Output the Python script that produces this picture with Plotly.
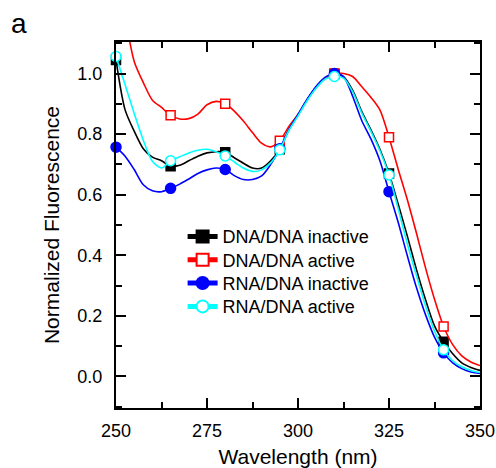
import plotly.graph_objects as go

# ---- data ----
wavelength = [250, 252.5, 255, 257.5, 260, 262.5, 265, 267.5, 270, 272.5, 275, 277.5,
              280, 282.5, 285, 287.5, 290, 292.5, 295, 297.5, 300, 302.5, 305, 307.5,
              310, 312.5, 315, 317.5, 320, 322.5, 325, 327.5, 330, 332.5, 335, 337.5,
              340, 342.5, 345, 347.5, 350]

dna_dna_inactive = [1.045, 0.88, 0.81, 0.752, 0.724, 0.712, 0.694, 0.697, 0.712, 0.727, 0.738, 0.742,
                    0.740, 0.722, 0.704, 0.688, 0.688, 0.712, 0.750, 0.815, 0.863, 0.913, 0.954, 0.984,
                    0.998, 0.99, 0.945, 0.875, 0.815, 0.75, 0.67, 0.57, 0.465, 0.355, 0.255, 0.167,
                    0.115, 0.075, 0.045, 0.03, 0.02]

dna_dna_active = [1.28, 1.18, 1.04, 0.97, 0.912, 0.888, 0.862, 0.85, 0.851, 0.866, 0.897, 0.908,
                  0.90, 0.876, 0.843, 0.805, 0.77, 0.758, 0.778, 0.825, 0.865, 0.913, 0.955, 0.985,
                  1.0, 1.0, 0.99, 0.957, 0.922, 0.88, 0.79, 0.685, 0.585, 0.475, 0.36, 0.255,
                  0.165, 0.105, 0.068, 0.048, 0.036]

rna_dna_inactive = [0.757, 0.727, 0.683, 0.633, 0.613, 0.61, 0.621, 0.635, 0.652, 0.67, 0.682, 0.688,
                    0.683, 0.663, 0.65, 0.65, 0.662, 0.70, 0.752, 0.815, 0.865, 0.915, 0.958, 0.988,
                    1.0, 0.99, 0.925, 0.845, 0.785, 0.712, 0.61, 0.51, 0.40, 0.295, 0.205, 0.13,
                    0.078, 0.045, 0.026, 0.015, 0.01]

rna_dna_active = [1.056, 0.963, 0.868, 0.78, 0.71, 0.688, 0.712, 0.725, 0.738, 0.747, 0.75, 0.742,
                  0.728, 0.708, 0.688, 0.677, 0.682, 0.705, 0.748, 0.812, 0.86, 0.91, 0.952, 0.982,
                  0.99, 0.985, 0.94, 0.87, 0.81, 0.745, 0.665, 0.555, 0.44, 0.335, 0.235, 0.15,
                  0.088, 0.052, 0.032, 0.02, 0.013]

marker_wavelengths = [250, 265, 280, 295, 310, 325, 340]
series_names = ["DNA/DNA inactive", "DNA/DNA active", "RNA/DNA inactive", "RNA/DNA active"]
x_tick_values = [250, 275, 300, 325, 350]
y_tick_values = [0.0, 0.2, 0.4, 0.6, 0.8, 1.0]

# ---- styles ----
styles = [
    dict(color="#000000", symbol="square", fill="#000000", clip=False),
    dict(color="#ff0000", symbol="square", fill="#ffffff", clip=True),
    dict(color="#0000ff", symbol="circle", fill="#0000ff", clip=False),
    dict(color="#00ffff", symbol="circle", fill="#ffffff", clip=False),
]
values = [dna_dna_inactive, dna_dna_active, rna_dna_inactive, rna_dna_active]
legend_ids = ["legend", "legend2", "legend3", "legend4"]
legend_rows_y = [0.468, 0.4044, 0.3407, 0.2768]
FONT = "Liberation Sans, Arial, Helvetica, sans-serif"

idx = [wavelength.index(w) for w in marker_wavelengths]

fig = go.Figure()
for name, vals, st in zip(series_names, values, styles):
    fig.add_trace(go.Scatter(
        x=wavelength, y=vals, mode="lines",
        line=dict(color=st["color"], width=1.6, shape="spline", smoothing=0.8),
        showlegend=False, hoverinfo="skip"))
    fig.add_trace(go.Scatter(
        x=[wavelength[i] for i in idx], y=[vals[i] for i in idx], mode="markers",
        marker=dict(symbol=st["symbol"], size=10 if st["symbol"] == "circle" else 9,
                    color=st["fill"], line=dict(color=st["color"], width=1.5)),
        cliponaxis=st["clip"], showlegend=False, hoverinfo="skip"))

for name, st, lg in zip(series_names, styles, legend_ids):
    fig.add_trace(go.Scatter(
        x=[None], y=[None], mode="lines+markers", name=name, legend=lg,
        line=dict(color=st["color"], width=1.5),
        marker=dict(symbol=st["symbol"], size=10 if st["symbol"] == "circle" else 9,
                    color=st["fill"], line=dict(color=st["color"], width=1.5))))

axis_common = dict(
    showline=True, linecolor="black", linewidth=2, mirror="allticks",
    ticks="inside", ticklen=10, tickwidth=2, tickcolor="black",
    showgrid=False, zeroline=False,
    tickfont=dict(family=FONT, size=18, color="black"),
)

fig.update_xaxes(
    range=[250, 350], tickvals=x_tick_values,
    minor=dict(dtick=12.5, tick0=250, ticks="inside", ticklen=6, tickwidth=2, tickcolor="black", showgrid=False),
    title=dict(text="Wavelength (nm)", font=dict(family=FONT, size=21, color="black"), standoff=10),
    ticklabelstandoff=5,
    **axis_common)
fig.update_yaxes(
    range=[-0.104, 1.104], tickvals=y_tick_values, tickformat=".1f",
    minor=dict(dtick=0.1, tick0=0, ticks="inside", ticklen=6, tickwidth=2, tickcolor="black", showgrid=False),
    title=dict(text="Normalized Fluorescence", font=dict(family=FONT, size=21, color="black"), standoff=12),
    ticklabelstandoff=8,
    **axis_common)

fig.add_annotation(text="a", xref="paper", yref="paper", x=-0.294, y=1.05,
                   xanchor="left", yanchor="middle", showarrow=False,
                   font=dict(family=FONT, size=28, color="black"))

legend_style = dict(xanchor="left", yanchor="middle", bgcolor="rgba(0,0,0,0)", borderwidth=0,
                    font=dict(family=FONT, size=18, color="black"), itemsizing="constant")
layout_legends = {}
for lg, ly in zip(legend_ids, legend_rows_y):
    layout_legends[lg] = dict(x=0.183, y=ly, **legend_style)

fig.update_layout(
    width=496, height=468,
    margin=dict(l=116, r=16, t=42, b=60, autoexpand=False),
    paper_bgcolor="white", plot_bgcolor="white",
    font=dict(family=FONT, size=18, color="black"),
    showlegend=True,
    **layout_legends,
)

fig.write_html("out.html", config={"displayModeBar": False},
               post_script="document.body.style.margin='0';")
